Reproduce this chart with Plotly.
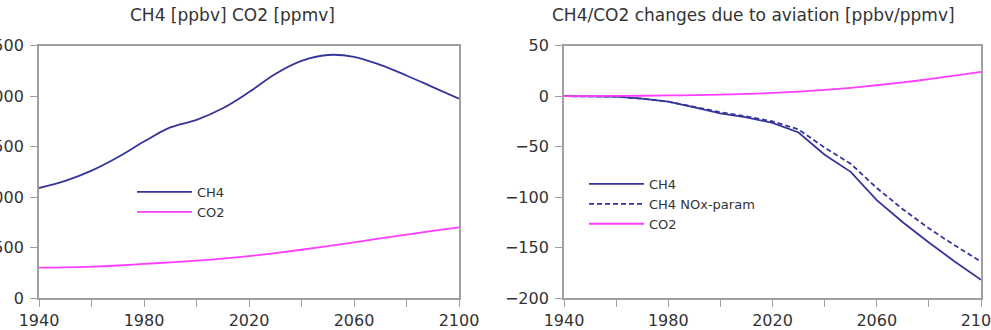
import plotly.graph_objects as go

# ---------------- data ----------------
years = [1940, 1950, 1960, 1970, 1980, 1990, 2000, 2010, 2020,
         2030, 2040, 2050, 2060, 2070, 2080, 2090, 2100]

# left panel: concentrations
ch4_conc = [1090, 1160, 1262, 1395, 1550, 1690, 1765, 1880, 2040,
            2220, 2350, 2408, 2390, 2310, 2205, 2090, 1975]
co2_conc = [300, 303, 310, 322, 338, 353, 370, 390, 415,
            445, 478, 515, 552, 590, 628, 665, 700]

# right panel: changes due to aviation
ch4_change = [0, 0, -0.5, -2.5, -5.5, -11, -17, -21, -26.5,
              -36, -58, -75, -103, -125, -145, -164, -182]
ch4_nox_change = [0, 0, -0.5, -2.5, -5.5, -10.5, -16, -20, -25,
                  -33, -51, -67, -91, -112, -131, -148, -164]
co2_change = [0, 0.05, 0.2, 0.4, 0.7, 1.0, 1.5, 2.2, 3.2,
              4.5, 6.2, 8.3, 10.8, 13.6, 16.8, 20.4, 24]

left_title = "CH4 [ppbv] CO2 [ppmv]"
right_title = "CH4/CO2 changes due to aviation [ppbv/ppmv]"

# ---------------- style ----------------
W, H = 991, 330
NAVY = "#35359a"
MAG = "#ff3cff"
FRAME = "#a0a0a0"
TXT = "#333333"
FONT = "DejaVu Sans"

fig = go.Figure()

fig.add_trace(go.Scatter(x=years, y=ch4_conc, name="CH4", mode="lines",
                         line=dict(color=NAVY, width=1.8, shape="spline"),
                         xaxis="x", yaxis="y", legend="legend"))
fig.add_trace(go.Scatter(x=years, y=co2_conc, name="CO2", mode="lines",
                         line=dict(color=MAG, width=1.8, shape="spline"),
                         xaxis="x", yaxis="y", legend="legend"))

fig.add_trace(go.Scatter(x=years, y=ch4_change, name="CH4", mode="lines",
                         line=dict(color=NAVY, width=1.8),
                         xaxis="x2", yaxis="y2", legend="legend2"))
fig.add_trace(go.Scatter(x=years, y=ch4_nox_change, name="CH4 NOx-param", mode="lines",
                         line=dict(color=NAVY, width=1.8, dash="5px,3px"),
                         xaxis="x2", yaxis="y2", legend="legend2"))
fig.add_trace(go.Scatter(x=years, y=co2_change, name="CO2", mode="lines",
                         line=dict(color=MAG, width=1.8, shape="spline"),
                         xaxis="x2", yaxis="y2", legend="legend2"))

def px_x(p):
    return p / W

def px_y(p):
    return 1 - p / H

ydom = [px_y(298), px_y(45.7)]

def xax(dom, anchor):
    return dict(domain=dom, anchor=anchor, range=[1940, 2100],
                tick0=1940, dtick=40, ticks="outside", ticklen=7,
                tickcolor=FRAME, tickwidth=1.2,
                minor=dict(dtick=20, tick0=1940, ticks="outside", ticklen=7,
                           tickcolor=FRAME, tickwidth=1.2, showgrid=False),
                showline=True, mirror=True, linecolor=FRAME, linewidth=1.8,
                showgrid=False, zeroline=False, automargin=False,
                ticklabeloverflow="allow",
                tickfont=dict(family=FONT, size=16, color=TXT))

def yax(rng, dt, anchor):
    return dict(domain=ydom, anchor=anchor, range=rng, dtick=dt,
                ticks="outside", ticklen=7, tickcolor=FRAME, tickwidth=1.2,
                showline=True, mirror=True, linecolor=FRAME, linewidth=1.8,
                showgrid=False, zeroline=False, automargin=False,
                ticklabelstandoff=3, ticklabeloverflow="allow",
                tickfont=dict(family=FONT, size=16, color=TXT))

fig.update_layout(
    width=W, height=H,
    margin=dict(l=0, r=0, t=0, b=0),
    paper_bgcolor="white", plot_bgcolor="white",
    font=dict(family=FONT, color=TXT),
    xaxis=xax([px_x(39), px_x(459)], "y"),
    yaxis=yax([0, 2500], 500, "x"),
    xaxis2=xax([px_x(564), px_x(981)], "y2"),
    yaxis2=yax([-200, 50], 50, "x2"),
    legend=dict(x=px_x(132), y=px_y(177), xanchor="left", yanchor="top",
                bgcolor="rgba(0,0,0,0)", borderwidth=0, itemwidth=55,
                font=dict(family=FONT, size=13, color=TXT),
                tracegroupgap=0),
    legend2=dict(x=px_x(584), y=px_y(169), xanchor="left", yanchor="top",
                 bgcolor="rgba(0,0,0,0)", borderwidth=0, itemwidth=55,
                 font=dict(family=FONT, size=13, color=TXT),
                 tracegroupgap=0),
    annotations=[
        dict(text=left_title, x=px_x(232), y=px_y(15), xref="paper", yref="paper",
             xanchor="center", yanchor="middle", showarrow=False,
             font=dict(family=FONT, size=17, color=TXT)),
        dict(text=right_title, x=px_x(753), y=px_y(15), xref="paper", yref="paper",
             xanchor="center", yanchor="middle", showarrow=False,
             font=dict(family=FONT, size=17, color=TXT)),
    ],
    showlegend=True,
)

fig.write_html("out.html")
